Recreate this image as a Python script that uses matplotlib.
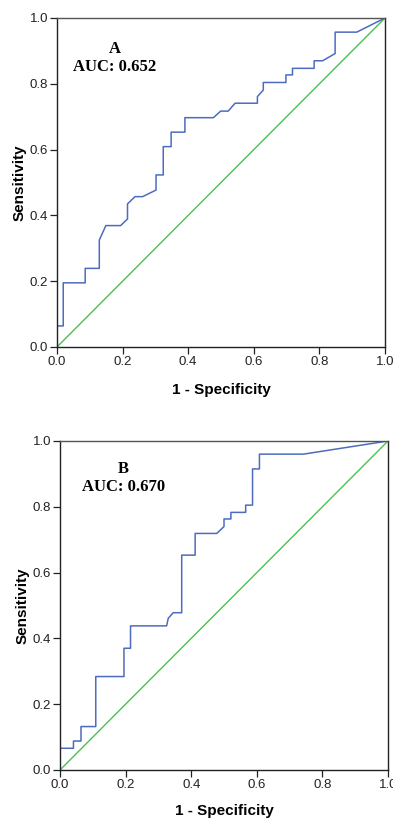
import matplotlib
matplotlib.use("Agg")
import matplotlib.pyplot as plt

plt.rcParams["font.family"] = ["Liberation Sans", "DejaVu Sans"]

# ROC curve A (1 - specificity, sensitivity)
fpr_a = [0.0, 0.0, 0.019, 0.019, 0.086, 0.086, 0.129, 0.129, 0.149, 0.194, 0.215,
         0.215, 0.238, 0.261, 0.302, 0.302, 0.324, 0.324, 0.348, 0.348, 0.390,
         0.390, 0.477, 0.499, 0.522, 0.543, 0.611, 0.611, 0.629, 0.629, 0.698,
         0.698, 0.718, 0.718, 0.784, 0.784, 0.810, 0.848, 0.848, 0.914, 1.0]
tpr_a = [0.0, 0.064, 0.064, 0.195, 0.195, 0.239, 0.239, 0.325, 0.369, 0.369, 0.389,
         0.435, 0.457, 0.457, 0.477, 0.523, 0.523, 0.609, 0.609, 0.653, 0.653,
         0.697, 0.697, 0.717, 0.717, 0.741, 0.741, 0.761, 0.781, 0.804, 0.804,
         0.827, 0.827, 0.847, 0.847, 0.870, 0.870, 0.892, 0.957, 0.957, 1.0]
auc_a = "0.652"

# ROC curve B
fpr_b = [0.0, 0.0, 0.041, 0.041, 0.064, 0.064, 0.109, 0.109, 0.195, 0.195, 0.215,
         0.215, 0.325, 0.330, 0.345, 0.371, 0.371, 0.412, 0.412, 0.478, 0.500,
         0.500, 0.521, 0.521, 0.566, 0.566, 0.587, 0.587, 0.608, 0.608, 0.742, 1.0]
tpr_b = [0.0, 0.066, 0.066, 0.088, 0.088, 0.132, 0.132, 0.284, 0.284, 0.370, 0.370,
         0.438, 0.438, 0.461, 0.478, 0.478, 0.653, 0.653, 0.719, 0.719, 0.740,
         0.763, 0.763, 0.783, 0.783, 0.805, 0.805, 0.915, 0.915, 0.960, 0.960, 1.0]
auc_b = "0.670"

ticks = [0.0, 0.2, 0.4, 0.6, 0.8, 1.0]
tick_labels = ["0.0", "0.2", "0.4", "0.6", "0.8", "1.0"]

BLUE = "#4d6cc0"
GREEN = "#4cc052"

fig = plt.figure(figsize=(3.93, 8.18), dpi=100)

panels = [
    ([0.145, 0.5758, 0.8346, 0.4022], fpr_a, tpr_a, "A", auc_a, (0.177, 0.906, 0.851), 11),
    ([0.1527, 0.0587, 0.8346, 0.4022], fpr_b, tpr_b, "B", auc_b, (0.193, 0.915, 0.861), 9),
]

for rect, fx, ty, letter, auc, (tx, ly, ay), xpad in panels:
    ax = fig.add_axes(rect)
    ax.plot([0, 1], [0, 1], color=GREEN, lw=1.0)
    ax.plot(fx, ty, color=BLUE, lw=1.1)
    ax.set_xlim(0, 1)
    ax.set_ylim(0, 1)
    ax.set_xticks(ticks)
    ax.set_yticks(ticks)
    ax.set_xticklabels(tick_labels)
    ax.set_yticklabels(tick_labels)
    ax.tick_params(direction="out", length=5, width=0.9, labelsize=9.5,
                   colors="#222222", pad=1.5)
    for side in ["left", "bottom", "right"]:
        ax.spines[side].set_color("#222222")
        ax.spines[side].set_linewidth(1.0)
    ax.spines["top"].set_color("#555555")
    ax.spines["top"].set_linewidth(1.0)
    ax.set_xlabel("1 - Specificity", fontsize=11, fontweight="bold", labelpad=xpad)
    ax.set_ylabel("Sensitivity", fontsize=11, fontweight="bold", labelpad=2)
    ax.text(tx, ly, letter, ha="center", va="center", fontsize=12,
            fontweight="bold", family="Liberation Serif")
    ax.text(tx, ay, "AUC: " + auc, ha="center", va="center", fontsize=12,
            fontweight="bold", family="Liberation Serif")

fig.savefig("out.png", dpi=100)
